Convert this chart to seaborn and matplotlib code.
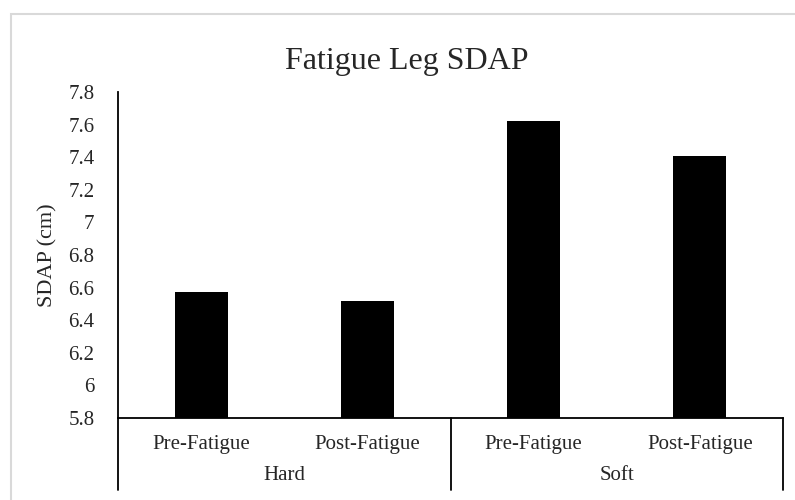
import pandas as pd
import matplotlib
matplotlib.use("Agg")
import matplotlib.pyplot as plt
import matplotlib.transforms as mtransforms
from matplotlib.patches import Rectangle
import seaborn as sns

# данные графика
surfaces = ["Hard", "Hard", "Soft", "Soft"]
conditions = ["Pre-Fatigue", "Post-Fatigue", "Pre-Fatigue", "Post-Fatigue"]
sdap = [6.57, 6.52, 7.62, 7.41]
y_ticks = [5.8, 6.0, 6.2, 6.4, 6.6, 6.8, 7.0, 7.2, 7.4, 7.6, 7.8]

df = pd.DataFrame({
    "surface": surfaces,
    "condition": conditions,
    "sdap": sdap,
})
df["key"] = df["surface"] + " " + df["condition"]

sns.set_theme(style="white")
plt.rcParams["font.family"] = ["Liberation Serif", "DejaVu Serif"]

fig = plt.figure(figsize=(7.95, 5.0), dpi=100)
ax = fig.add_axes([118 / 795, 82 / 500, 665 / 795, 326 / 500])

# рамка картинки
fig.patches.append(Rectangle((11 / 795, -0.02), 1.0, 1.0 - 14 / 500 + 0.02,
                             transform=fig.transFigure, fill=False,
                             edgecolor="#d9d9d9", linewidth=1.5))

sns.barplot(data=df, x="key", y="sdap", color="black", width=0.32,
            saturation=1, edgecolor="none", ax=ax)

ax.set_ylim(5.8, 7.8)
ax.set_xlim(-0.5, 3.5)
ax.set_yticks(y_ticks)
ax.set_yticklabels([f"{v:g}" for v in y_ticks], fontsize=15)
ax.set_xticks(range(len(conditions)))
ax.set_xticklabels(conditions, fontsize=15)
ax.tick_params(axis="both", length=0)
ax.tick_params(axis="y", pad=17)
ax.tick_params(axis="x", pad=12)
ax.set_xlabel("")
ax.set_ylabel("SDAP (cm)", fontsize=16, labelpad=8)

sns.despine(ax=ax)
for side in ["left", "bottom"]:
    ax.spines[side].set_color("black")
    ax.spines[side].set_linewidth(1.3)

# многоуровневая ось: разделители и подписи групп
trans = mtransforms.blended_transform_factory(ax.transData, ax.transAxes)
for xb in [-0.5, 1.5, 3.5]:
    ax.plot([xb, xb], [0, -72 / 326], transform=trans, color="black",
            linewidth=1.3, clip_on=False)
groups = ["Hard", "Soft"]
for i, g in enumerate(groups):
    ax.text(2 * i + 0.5, -58 / 326, g, transform=trans, ha="center",
            va="center", fontsize=15)

fig.text(407 / 795, 1 - 62 / 500, "Fatigue Leg SDAP", ha="center",
         va="center", fontsize=23)

fig.savefig("out.png", dpi=100)
